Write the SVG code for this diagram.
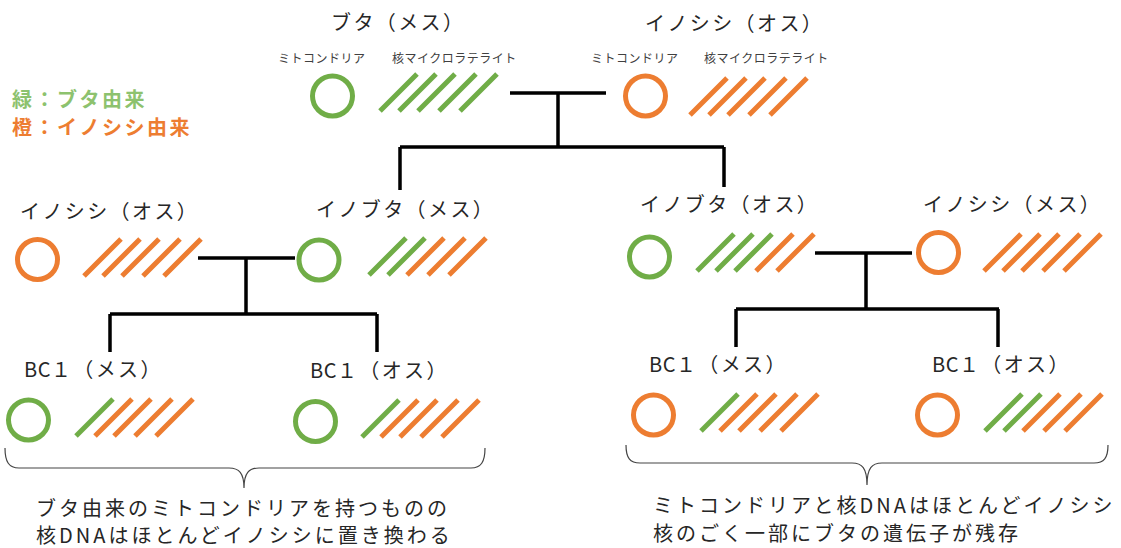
<svg xmlns="http://www.w3.org/2000/svg" width="1121" height="548" viewBox="0 0 1121 548">
<style>
text{font-family:"Noto Sans CJK JP","Noto Sans",sans-serif;fill:#262626}
.t{font-size:20px;letter-spacing:2.4px}
.t tspan{letter-spacing:0.5px}
.s{font-size:12px;letter-spacing:0.5px;fill:#404040}
.b{font-size:20px;letter-spacing:3px}
.lg{font-size:20px;font-weight:bold;letter-spacing:2.5px}
.g{stroke:#70AD47;stroke-width:5;fill:none}
.o{stroke:#ED7D31;stroke-width:5;fill:none}
.c{stroke:#000;stroke-width:3.5;fill:none}
.br{stroke:#444;stroke-width:1.2;fill:none}
</style>
<rect width="1121" height="548" fill="#fff"/>
<g id="legend">
<text class="lg" x="12" y="107" style="fill:#8DC26E">緑：ブタ由来</text>
<text class="lg" x="12" y="135" style="fill:#ED7D31">橙：イノシシ由来</text>
</g>
<g id="connectors">
<path class="c" d="M510 93H606M558 93V147M400 147H724M400 147V190M724 147V187"/>
<path class="c" d="M198 258H295M246 258V314M110 314H377M110 314V352M377 314V352"/>
<path class="c" d="M815 253H912M866 253V309M736 309H999M736 309V347M998 309V347"/>
</g>
<g id="pig-f">
<text class="t" x="331" y="30">ブタ（メス）</text>
<text class="s" x="278" y="63">ミトコンドリア</text>
<text class="s" x="392" y="63">核マイクロラテライト</text>
<circle class="g" cx="332.5" cy="96" r="20"/>
<path class="g" d="M380 111l37-37M399 111l37-37M418 111l37-37M439 111l37-37M460 111l37-37"/>
</g>
<g id="boar-m">
<text class="t" x="645" y="31">イノシシ（オス）</text>
<text class="s" x="591" y="63">ミトコンドリア</text>
<text class="s" x="704" y="63">核マイクロラテライト</text>
<circle class="o" cx="645.5" cy="96" r="20"/>
<path class="o" d="M690 115l37-37M709 115l37-37M728 115l37-37M749 115l37-37M770 115l37-37"/>
</g>
<g id="boar-m2">
<text class="t" x="20" y="219">イノシシ（オス）</text>
<circle class="o" cx="37.5" cy="259.5" r="20"/>
<path class="o" d="M84 276l37-37M103 276l37-37M122 276l37-37M143 276l37-37M164 276l37-37"/>
</g>
<g id="inobuta-f">
<text class="t" x="316" y="217">イノブタ（メス）</text>
<circle class="g" cx="319" cy="260" r="20"/>
<path class="g" d="M369 275l37-37M388 275l37-37"/>
<path class="o" d="M407 275l37-37M428 275l37-37M449 275l37-37"/>
</g>
<g id="inobuta-m">
<text class="t" x="640" y="212">イノブタ（オス）</text>
<circle class="g" cx="649.5" cy="257" r="20"/>
<path class="g" d="M697 271l37-37M716 271l37-37M735 271l37-37"/>
<path class="o" d="M756 271l37-37M777 271l37-37"/>
</g>
<g id="boar-f">
<text class="t" x="923" y="212">イノシシ（メス）</text>
<circle class="o" cx="938.5" cy="252.5" r="20"/>
<path class="o" d="M984 271l37-37M1003 271l37-37M1022 271l37-37M1043 271l37-37M1064 271l37-37"/>
</g>
<g id="bc1-lf">
<text class="t" x="24" y="377"><tspan>BC</tspan>１（メス）</text>
<circle class="g" cx="28.5" cy="420" r="20"/>
<path class="g" d="M76 436l37-37"/>
<path class="o" d="M95 436l37-37M114 436l37-37M135 436l37-37M156 436l37-37"/>
</g>
<g id="bc1-lm">
<text class="t" x="310" y="378"><tspan>BC</tspan>１（オス）</text>
<circle class="g" cx="315.5" cy="421.5" r="20"/>
<path class="g" d="M362 437l37-37"/>
<path class="o" d="M381 437l37-37M400 437l37-37M421 437l37-37M442 437l37-37"/>
</g>
<g id="bc1-rf">
<text class="t" x="649" y="372"><tspan>BC</tspan>１（メス）</text>
<circle class="o" cx="653.5" cy="415" r="20"/>
<path class="g" d="M701 431l37-37"/>
<path class="o" d="M720 431l37-37M739 431l37-37M760 431l37-37M781 431l37-37"/>
</g>
<g id="bc1-rm">
<text class="t" x="932" y="372"><tspan>BC</tspan>１（オス）</text>
<circle class="o" cx="937.5" cy="415" r="20"/>
<path class="g" d="M985 431l37-37M1004 431l37-37"/>
<path class="o" d="M1023 431l37-37M1044 431l37-37M1065 431l37-37"/>
</g>
<g id="note-left">
<path class="br" d="M5 448C5 462 9 468 19 468H229C239 468 244 473 244 488C244 473 249 468 259 468H471C481 468 485 462 485 448"/>
<text class="b" x="36" y="516">ブタ由来のミトコンドリアを持つものの</text>
<text class="b" x="36" y="543">核DNAはほとんどイノシシに置き換わる</text>
</g>
<g id="note-right">
<path class="br" d="M626 445C626 458 630 463 640 463H852C862 463 867 468 867 485C867 468 872 463 882 463H1094C1104 463 1108 458 1108 445"/>
<text class="b" x="653" y="513">ミトコンドリアと核DNAはほとんどイノシシ</text>
<text class="b" x="653" y="541">核のごく一部にブタの遺伝子が残存</text>
</g>
</svg>
